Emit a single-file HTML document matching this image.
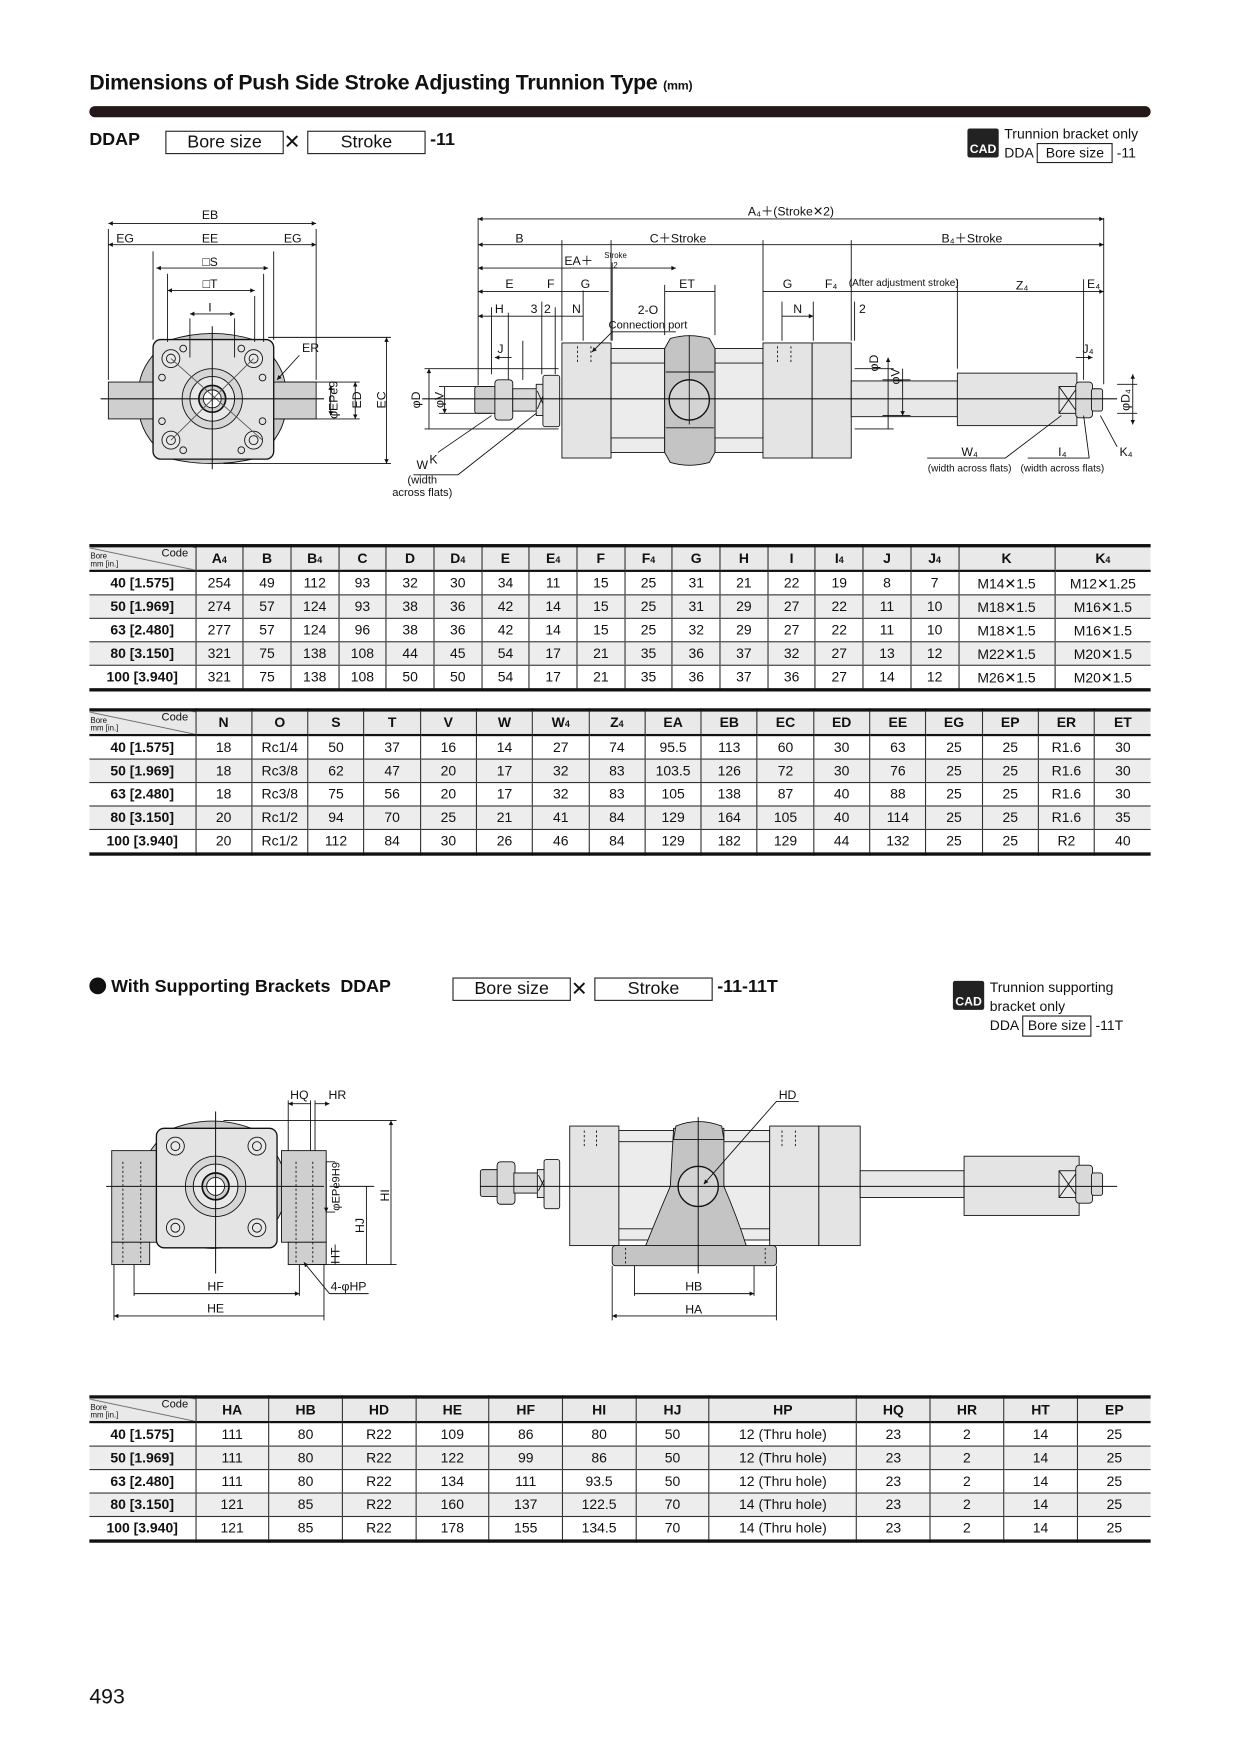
<!DOCTYPE html>
<html><head><meta charset="utf-8">
<style>
html,body{margin:0;padding:0;background:#fff}
#wrap{width:1240px;height:1754px;overflow:hidden;position:relative}
#pg{position:absolute;left:0;top:0;width:1110px;height:1570px;transform:scale(1.11712);transform-origin:0 0;font-family:"Liberation Sans",Arial,sans-serif;color:#111}
.abs{position:absolute}
h1{position:absolute;left:80px;top:64px;margin:0;font-size:19px;font-weight:bold;letter-spacing:-0.2px;white-space:nowrap}
h1 small{font-size:11px}
.bar{position:absolute;left:80px;top:95px;width:950px;height:10px;background:#231a18;border-radius:5px}
.box{display:inline-block;border:1px solid #222;padding:0 0;text-align:center;font-weight:normal}
table{position:absolute;border-collapse:collapse;table-layout:fixed;font-size:12.5px}
td,th{height:20px;padding:0;text-align:center;border-left:1px solid #333;border-bottom:1px solid #333;white-space:nowrap;overflow:hidden}
th{background:#e9e9e9;font-weight:bold;border-bottom:2px solid #111;font-size:12.5px}
td:first-child,th:first-child{border-left:none;font-weight:bold}
tr.g td{background:#ededed}
table{border-top:3px solid #111;border-bottom:3px solid #111}
th.c{position:relative;text-align:right;font-weight:normal;font-size:10px;vertical-align:top;padding-right:6px;background:#e9e9e9 linear-gradient(to top right,transparent 49%,#333 50%,transparent 52%) }
th.c span{position:absolute;left:1px;bottom:1px;font-size:7px;text-align:left;line-height:7px}
sub{font-size:8px;vertical-align:baseline}
svg text{font-family:"Liberation Sans",Arial,sans-serif;font-size:11px;fill:#111}
</style></head><body><div id="wrap"><div id="pg">
<h1>Dimensions of Push Side Stroke Adjusting Trunnion Type <small>(mm)</small></h1>
<div class="bar"></div>
<div class="abs" style="left:80px;top:117px;font-size:16px;font-weight:bold;white-space:nowrap">DDAP
 <span class="box" style="position:absolute;left:68px;top:0;width:104px;font-size:16px;line-height:19px">Bore size</span>
 <span style="position:absolute;left:174px;top:0;font-weight:normal;font-size:18px">✕</span>
 <span class="box" style="position:absolute;left:195px;top:0;width:104px;font-size:16px;line-height:19px">Stroke</span>
 <span style="position:absolute;left:305px;top:0">-11</span></div>
<div class="abs" style="left:866px;top:115px;width:28px;height:26px;background:#222;color:#fff;font-size:11px;font-weight:bold;text-align:center;line-height:38px;border-radius:2px">CAD</div>
<div class="abs" style="left:899px;top:112px;font-size:12.5px;line-height:16px;white-space:nowrap">Trunnion bracket only<br>DDA <span class="box" style="width:66px">Bore size</span> -11</div>

<svg class="abs" style="left:0;top:0" width="1110" height="470" viewBox="0 0 1110 470">
<defs><marker id="a" viewBox="0 0 10 10" refX="10" refY="5" markerWidth="7" markerHeight="5" orient="auto-start-reverse"><path d="M0,0L10,5L0,10z" fill="#111"/></marker></defs>
<g stroke="#111" stroke-width="0.8" fill="none">
<path d="M150 305 Q190 292 230 305 Q260 330 255 357 Q260 385 230 410 Q190 420 150 410 Q120 385 125 357 Q120 330 150 305z" fill="#c9c9c9"/>
<rect x="97" y="342" width="42" height="33" fill="#cfcfcf"/>
<rect x="243" y="342" width="40" height="33" fill="#cfcfcf"/>
<rect x="137" y="304" width="108" height="107" rx="7" fill="#e4e4e4" stroke-width="1.2"/>
<circle cx="190" cy="357" r="27" fill="#d6d6d6"/><circle cx="190" cy="357" r="20" fill="#e8e8e8"/><circle cx="190" cy="357" r="12" fill="#cfcfcf" stroke-width="1.5"/><circle cx="190" cy="357" r="8" fill="#fff"/>
<g fill="#e8e8e8"><circle cx="153" cy="321" r="8"/><circle cx="227" cy="321" r="8"/><circle cx="153" cy="394" r="8"/><circle cx="227" cy="394" r="8"/></g>
<g><circle cx="153" cy="321" r="4"/><circle cx="227" cy="321" r="4"/><circle cx="153" cy="394" r="4"/><circle cx="227" cy="394" r="4"/></g>
<g><circle cx="164" cy="312" r="3"/><circle cx="216" cy="312" r="3"/><circle cx="164" cy="403" r="3"/><circle cx="216" cy="403" r="3"/><circle cx="145" cy="338" r="3"/><circle cx="235" cy="338" r="3"/><circle cx="145" cy="377" r="3"/><circle cx="235" cy="377" r="3"/></g>
<path d="M153 321L235 394M227 321L153 394" stroke="#555"/>
<path d="M90 357H290M190 292V420" stroke-width="0.9"/>
<path d="M97 205V340M283 205V340M137 225V304M245 225V304M150 245V306M236 245V306M150 265V306M228 265V306M170 285V320M210 285V320"/>
<path d="M97 200H283" marker-start="url(#a)" marker-end="url(#a)"/>
<path d="M97 219H137M137 219H245M245 219H283" marker-start="url(#a)" marker-end="url(#a)"/>
<path d="M140 240H240" marker-start="url(#a)" marker-end="url(#a)"/>
<path d="M150 260H228" marker-start="url(#a)" marker-end="url(#a)"/>
<path d="M170 281H210" marker-start="url(#a)" marker-end="url(#a)"/>
<path d="M240 302H350M250 342H322M250 375H322M200 415H350"/>
<path d="M318 342V375" marker-start="url(#a)" marker-end="url(#a)"/>
<path d="M346 302V415" marker-start="url(#a)" marker-end="url(#a)"/>
<path d="M296 345V372" marker-start="url(#a)" marker-end="url(#a)"/>
<path d="M268 318L248 340" marker-end="url(#a)"/>
<rect x="425" y="346" width="22" height="24" rx="2" fill="#cfcfcf"/>
<rect x="443" y="340" width="16" height="36" rx="3" fill="#d9d9d9"/>
<rect x="459" y="348" width="22" height="20" fill="#d9d9d9"/>
<rect x="480" y="344" width="9" height="28" fill="#e4e4e4"/><path d="M481 350L488 366M488 350L481 366"/>
<rect x="486" y="336" width="15" height="46" rx="2" fill="#e4e4e4"/>
<rect x="503" y="307" width="44" height="103" fill="#e4e4e4"/>
<rect x="547" y="312" width="48" height="93" fill="#ececec"/><path d="M547 325H595M547 392H595"/>
<rect x="640" y="312" width="43" height="93" fill="#ececec"/><path d="M640 325H683M640 392H683"/>
<path d="M600 303Q617 298 635 303L640 312V405L635 414Q617 419 600 414L595 405V312z" fill="#c4c4c4"/>
<path d="M596 333H639M596 383H639"/>
<circle cx="617" cy="358" r="18" fill="#d4d4d4" stroke-width="1.2"/>
<rect x="683" y="307" width="44" height="103" fill="#e4e4e4"/>
<rect x="727" y="307" width="35" height="103" fill="#e4e4e4"/>
<rect x="762" y="341" width="95" height="32" fill="#e8e8e8"/>
<rect x="857" y="334" width="107" height="47" fill="#e4e4e4"/>
<rect x="948" y="346" width="17" height="24" fill="#e8e8e8"/><path d="M948 346L965 370M965 346L948 370"/>
<rect x="963" y="342" width="15" height="32" rx="3" fill="#d9d9d9"/>
<rect x="977" y="348" width="10" height="20" rx="2" fill="#d9d9d9"/>
<g stroke-dasharray="2 2"><path d="M517 310V326M529 310V326M696 310V326M708 310V326"/></g>
<path d="M378 357H1000" stroke-width="0.9"/>
<path d="M617 300V380"/>
<path d="M428 195V345M988 195V344M503 215V305M547 215V305M683 215V305M762 215V305M857 250V330M970 250V340M548 235V305M595 255V300M640 255V300M503 215V305M485 270V335M497 275V335M440 275V335M455 280V340M468 305V340M700 270V305M728 270V305M765 270V305M522 260V305"/>
<path d="M428 196H988" marker-start="url(#a)" marker-end="url(#a)"/>
<path d="M428 219H503M503 219H832M832 219H988" marker-start="url(#a)" marker-end="url(#a)"/>
<path d="M428 240H605" marker-start="url(#a)" marker-end="url(#a)"/>
<path d="M428 261H485M485 261H503M503 261H545M595 261H640M683 261H728M728 261H762M762 261H857M857 261H970M970 261H988" marker-start="url(#a)" marker-end="url(#a)"/>
<path d="M428 283H468M468 283H480M480 283H503M503 283H522M700 283H728" marker-start="url(#a)" marker-end="url(#a)"/>
<path d="M443 320H458M963 320H978" marker-start="url(#a)" marker-end="url(#a)"/>
<path d="M380 330H500M380 384H500M393 346H440M393 370H440"/>
<path d="M384 330V384M398 346V370" marker-start="url(#a)" marker-end="url(#a)"/>
<path d="M765 330H800M765 384H800M790 340H815M790 372H815"/>
<path d="M795 320V384M808 330V372" marker-start="url(#a)" marker-end="url(#a)"/>
<path d="M1000 344H1018M1000 370H1018"/>
<path d="M1014 335V380" marker-start="url(#a)" marker-end="url(#a)"/>
<path d="M548 297H605M548 297L530 315" marker-end="url(#a)"/>
<path d="M392 405L440 372M370 425H410L480 370M830 410H900L950 372M920 410H975L970 372M1000 400L985 372"/>
</g>
<g text-anchor="middle">
<text x="188" y="196">EB</text><text x="112" y="217">EG</text><text x="188" y="217">EE</text><text x="262" y="217">EG</text>
<text x="188" y="238">□S</text><text x="188" y="258">□T</text><text x="188" y="279">I</text><text x="278" y="315">ER</text>
<text x="708" y="193">A₄＋(Stroke✕2)</text><text x="465" y="217">B</text><text x="607" y="217">C＋Stroke</text><text x="870" y="217">B₄＋Stroke</text>
<text x="518" y="237">EA＋</text><text x="551" y="231" style="font-size:7px">Stroke</text><text x="551" y="240" style="font-size:7px">2</text>
<text x="456" y="258">E</text><text x="493" y="258">F</text><text x="524" y="258">G</text><text x="615" y="258">ET</text><text x="705" y="258">G</text><text x="744" y="258">F₄</text><text x="915" y="259">Z₄</text><text x="979" y="258">E₄</text>
<text x="809" y="256" style="font-size:9px">(After adjustment stroke)</text>
<text x="447" y="280">H</text><text x="478" y="280">3</text><text x="490" y="280">2</text><text x="516" y="280">N</text><text x="580" y="281">2-O</text><text x="714" y="280">N</text><text x="772" y="280">2</text>
<text x="580" y="294" style="font-size:10px">Connection port</text>
<text x="448" y="316">J</text><text x="974" y="316">J₄</text>
<text x="388" y="415">K</text><text x="378" y="420">W</text><text x="378" y="433" style="font-size:10px">(width</text><text x="378" y="444" style="font-size:10px">across flats)</text>
<text x="868" y="408">W₄</text><text x="868" y="422" style="font-size:9px">(width across flats)</text>
<text x="951" y="408">I₄</text><text x="951" y="422" style="font-size:9px">(width across flats)</text><text x="1008" y="408">K₄</text>
<text transform="translate(376,358) rotate(-90)">φD</text><text transform="translate(397,358) rotate(-90)">φV</text>
<text transform="translate(302,358) rotate(-90)">φEPe9</text><text transform="translate(323,358) rotate(-90)">ED</text><text transform="translate(345,358) rotate(-90)">EC</text>
<text transform="translate(786,325) rotate(-90)">φD</text><text transform="translate(805,337) rotate(-90)">φV</text><text transform="translate(1011,358) rotate(-90)">φD₄</text>
</g>
</svg>

<table style="left:80px;top:487px;width:950px">
<colgroup><col style="width:95px"><col span="16" style="width:42.7px"><col style="width:86px"><col style="width:86px"></colgroup>
<tr><th class="c">Code<span>Bore<br>mm [in.]</span></th><th>A<sub>4</sub></th><th>B</th><th>B<sub>4</sub></th><th>C</th><th>D</th><th>D<sub>4</sub></th><th>E</th><th>E<sub>4</sub></th><th>F</th><th>F<sub>4</sub></th><th>G</th><th>H</th><th>I</th><th>I<sub>4</sub></th><th>J</th><th>J<sub>4</sub></th><th>K</th><th>K<sub>4</sub></th></tr>
<tr><td>40 [1.575]</td><td>254</td><td>49</td><td>112</td><td>93</td><td>32</td><td>30</td><td>34</td><td>11</td><td>15</td><td>25</td><td>31</td><td>21</td><td>22</td><td>19</td><td>8</td><td>7</td><td>M14✕1.5</td><td>M12✕1.25</td></tr>
<tr class="g"><td>50 [1.969]</td><td>274</td><td>57</td><td>124</td><td>93</td><td>38</td><td>36</td><td>42</td><td>14</td><td>15</td><td>25</td><td>31</td><td>29</td><td>27</td><td>22</td><td>11</td><td>10</td><td>M18✕1.5</td><td>M16✕1.5</td></tr>
<tr><td>63 [2.480]</td><td>277</td><td>57</td><td>124</td><td>96</td><td>38</td><td>36</td><td>42</td><td>14</td><td>15</td><td>25</td><td>32</td><td>29</td><td>27</td><td>22</td><td>11</td><td>10</td><td>M18✕1.5</td><td>M16✕1.5</td></tr>
<tr class="g"><td>80 [3.150]</td><td>321</td><td>75</td><td>138</td><td>108</td><td>44</td><td>45</td><td>54</td><td>17</td><td>21</td><td>35</td><td>36</td><td>37</td><td>32</td><td>27</td><td>13</td><td>12</td><td>M22✕1.5</td><td>M20✕1.5</td></tr>
<tr><td>100 [3.940]</td><td>321</td><td>75</td><td>138</td><td>108</td><td>50</td><td>50</td><td>54</td><td>17</td><td>21</td><td>35</td><td>36</td><td>37</td><td>36</td><td>27</td><td>14</td><td>12</td><td>M26✕1.5</td><td>M20✕1.5</td></tr>
</table>

<table style="left:80px;top:634px;width:950px">
<colgroup><col style="width:95px"><col span="17" style="width:50.3px"></colgroup>
<tr><th class="c">Code<span>Bore<br>mm [in.]</span></th><th>N</th><th>O</th><th>S</th><th>T</th><th>V</th><th>W</th><th>W<sub>4</sub></th><th>Z<sub>4</sub></th><th>EA</th><th>EB</th><th>EC</th><th>ED</th><th>EE</th><th>EG</th><th>EP</th><th>ER</th><th>ET</th></tr>
<tr><td>40 [1.575]</td><td>18</td><td>Rc1/4</td><td>50</td><td>37</td><td>16</td><td>14</td><td>27</td><td>74</td><td>95.5</td><td>113</td><td>60</td><td>30</td><td>63</td><td>25</td><td>25</td><td>R1.6</td><td>30</td></tr>
<tr class="g"><td>50 [1.969]</td><td>18</td><td>Rc3/8</td><td>62</td><td>47</td><td>20</td><td>17</td><td>32</td><td>83</td><td>103.5</td><td>126</td><td>72</td><td>30</td><td>76</td><td>25</td><td>25</td><td>R1.6</td><td>30</td></tr>
<tr><td>63 [2.480]</td><td>18</td><td>Rc3/8</td><td>75</td><td>56</td><td>20</td><td>17</td><td>32</td><td>83</td><td>105</td><td>138</td><td>87</td><td>40</td><td>88</td><td>25</td><td>25</td><td>R1.6</td><td>30</td></tr>
<tr class="g"><td>80 [3.150]</td><td>20</td><td>Rc1/2</td><td>94</td><td>70</td><td>25</td><td>21</td><td>41</td><td>84</td><td>129</td><td>164</td><td>105</td><td>40</td><td>114</td><td>25</td><td>25</td><td>R1.6</td><td>35</td></tr>
<tr><td>100 [3.940]</td><td>20</td><td>Rc1/2</td><td>112</td><td>84</td><td>30</td><td>26</td><td>46</td><td>84</td><td>129</td><td>182</td><td>129</td><td>44</td><td>132</td><td>25</td><td>25</td><td>R2</td><td>40</td></tr>
</table>

<div class="abs" style="left:80px;top:875px;font-size:16px;font-weight:bold;white-space:nowrap"><span style="display:inline-block;width:15px;height:15px;border-radius:50%;background:#111;vertical-align:-2px"></span> With Supporting Brackets&nbsp; DDAP
 <span class="box" style="position:absolute;left:325px;top:0;width:104px;font-size:16px;line-height:19px">Bore size</span>
 <span style="position:absolute;left:431px;top:0;font-weight:normal;font-size:18px">✕</span>
 <span class="box" style="position:absolute;left:452px;top:0;width:104px;font-size:16px;line-height:19px">Stroke</span>
 <span style="position:absolute;left:562px;top:0">-11-11T</span></div>
<div class="abs" style="left:853px;top:878px;width:28px;height:26px;background:#222;color:#fff;font-size:11px;font-weight:bold;text-align:center;line-height:38px;border-radius:2px">CAD</div>
<div class="abs" style="left:886px;top:876px;font-size:12.5px;line-height:16.5px;white-space:nowrap">Trunnion supporting<br>bracket only<br>DDA <span class="box" style="width:60px">Bore size</span> -11T</div>

<svg class="abs" style="left:0;top:960px" width="1110" height="230" viewBox="0 960 1110 230">
<defs><marker id="b" viewBox="0 0 10 10" refX="10" refY="5" markerWidth="7" markerHeight="5" orient="auto-start-reverse"><path d="M0,0L10,5L0,10z" fill="#111"/></marker></defs>
<g stroke="#111" stroke-width="0.8" fill="none">
<path d="M150 1012 Q190 995 230 1012 Q258 1040 255 1062 Q258 1090 230 1110 Q190 1125 150 1110 Q122 1090 125 1062 Q122 1040 150 1012z" fill="#c9c9c9"/>
<rect x="100" y="1030" width="40" height="82" fill="#cfcfcf"/><rect x="100" y="1112" width="34" height="20" fill="#cfcfcf"/>
<rect x="252" y="1030" width="40" height="82" fill="#cfcfcf"/><rect x="258" y="1112" width="34" height="20" fill="#cfcfcf"/>
<rect x="140" y="1010" width="108" height="107" rx="7" fill="#e4e4e4" stroke-width="1.2"/>
<circle cx="193" cy="1062" r="27" fill="#d6d6d6"/><circle cx="193" cy="1062" r="20" fill="#e8e8e8"/><circle cx="193" cy="1062" r="12" fill="#cfcfcf" stroke-width="1.5"/><circle cx="193" cy="1062" r="8" fill="#fff"/>
<g fill="#e8e8e8"><circle cx="157" cy="1026" r="8"/><circle cx="230" cy="1026" r="8"/><circle cx="157" cy="1099" r="8"/><circle cx="230" cy="1099" r="8"/></g>
<g><circle cx="157" cy="1026" r="4"/><circle cx="230" cy="1026" r="4"/><circle cx="157" cy="1099" r="4"/><circle cx="230" cy="1099" r="4"/></g>
<path d="M95 1062H290M193 995V1140" stroke-width="0.9"/>
<g stroke-dasharray="2 2"><path d="M110 1040V1130M126 1040V1130M265 1040V1130M280 1040V1130"/></g>
<path d="M258 985V1030M278 985V1030M282 985V1030M102 1132V1182M290 1132V1182M120 1132V1160M268 1132V1160M200 1003H355M270 1132H355"/>
<path d="M258 988H278M282 988H295" marker-start="url(#b)" marker-end="url(#b)"/>
<path d="M102 1178H290M120 1158H268" marker-start="url(#b)" marker-end="url(#b)"/>
<path d="M350 1003V1132M328 1062V1132M300 1114V1132M292 1040V1085" marker-start="url(#b)" marker-end="url(#b)"/>
<path d="M295 1062H335M292 1040H300M292 1085H300"/>
<path d="M330 1158H295L272 1130" marker-end="url(#b)"/>
<rect x="430" y="1047" width="18" height="24" rx="2" fill="#cfcfcf"/>
<rect x="445" y="1040" width="16" height="38" rx="3" fill="#d9d9d9"/>
<rect x="460" y="1050" width="22" height="18" fill="#d9d9d9"/>
<rect x="481" y="1047" width="9" height="25" fill="#e4e4e4"/><path d="M482 1052L489 1066M489 1052L482 1066"/>
<rect x="487" y="1038" width="14" height="44" rx="2" fill="#e4e4e4"/>
<rect x="510" y="1008" width="44" height="107" fill="#e4e4e4"/>
<rect x="554" y="1012" width="135" height="98" fill="#ececec"/><path d="M554 1022H689M554 1100H689"/>
<rect x="689" y="1008" width="44" height="107" fill="#e4e4e4"/>
<rect x="733" y="1008" width="37" height="107" fill="#e4e4e4"/>
<rect x="770" y="1048" width="93" height="24" fill="#e8e8e8"/>
<rect x="863" y="1035" width="103" height="53" fill="#e4e4e4"/>
<rect x="948" y="1048" width="17" height="24" fill="#e8e8e8"/><path d="M948 1048L965 1072M965 1048L948 1072"/>
<rect x="963" y="1043" width="15" height="34" rx="3" fill="#d9d9d9"/>
<rect x="977" y="1050" width="10" height="20" rx="2" fill="#d9d9d9"/>
<rect x="548" y="1115" width="147" height="18" rx="3" fill="#c4c4c4"/>
<path d="M603 1010H648V1062Q660 1090 668 1115H578Q588 1090 600 1062z" fill="#c4c4c4"/>
<path d="M605 1008Q625 1000 646 1008L648 1020H603z" fill="#c4c4c4"/>
<circle cx="625" cy="1062" r="18" fill="#d4d4d4" stroke-width="1.2"/>
<g stroke-dasharray="2 2"><path d="M523 1012V1028M534 1012V1028M700 1012V1028M712 1012V1028M560 1117V1132M685 1117V1132"/></g>
<path d="M430 1062H1000M625 1000V1140" stroke-width="0.9"/>
<path d="M548 1133V1182M695 1133V1182M568 1133V1160M675 1133V1160"/>
<path d="M548 1178H695M568 1158H675" marker-start="url(#b)" marker-end="url(#b)"/>
<path d="M715 986H695L630 1060" marker-end="url(#b)"/>
</g>
<g text-anchor="middle">
<text x="268" y="984">HQ</text><text x="302" y="984">HR</text><text x="193" y="1155">HF</text><text x="193" y="1175">HE</text><text x="312" y="1155">4-φHP</text>
<text transform="translate(304,1062) rotate(-90)" style="font-size:10px">φEPe9H9</text><text transform="translate(348,1070) rotate(-90)">HI</text><text transform="translate(326,1097) rotate(-90)">HJ</text><text transform="translate(304,1124) rotate(-90)">HT</text>
<text x="705" y="984">HD</text><text x="621" y="1155">HB</text><text x="621" y="1176">HA</text>
</g>
</svg>

<table style="left:80px;top:1249px;width:950px">
<colgroup><col style="width:95px"><col span="7" style="width:65.7px"><col style="width:132px"><col span="4" style="width:65.85px"></colgroup>
<tr><th class="c">Code<span>Bore<br>mm [in.]</span></th><th>HA</th><th>HB</th><th>HD</th><th>HE</th><th>HF</th><th>HI</th><th>HJ</th><th>HP</th><th>HQ</th><th>HR</th><th>HT</th><th>EP</th></tr>
<tr><td>40 [1.575]</td><td>111</td><td>80</td><td>R22</td><td>109</td><td>86</td><td>80</td><td>50</td><td>12 (Thru hole)</td><td>23</td><td>2</td><td>14</td><td>25</td></tr>
<tr class="g"><td>50 [1.969]</td><td>111</td><td>80</td><td>R22</td><td>122</td><td>99</td><td>86</td><td>50</td><td>12 (Thru hole)</td><td>23</td><td>2</td><td>14</td><td>25</td></tr>
<tr><td>63 [2.480]</td><td>111</td><td>80</td><td>R22</td><td>134</td><td>111</td><td>93.5</td><td>50</td><td>12 (Thru hole)</td><td>23</td><td>2</td><td>14</td><td>25</td></tr>
<tr class="g"><td>80 [3.150]</td><td>121</td><td>85</td><td>R22</td><td>160</td><td>137</td><td>122.5</td><td>70</td><td>14 (Thru hole)</td><td>23</td><td>2</td><td>14</td><td>25</td></tr>
<tr><td>100 [3.940]</td><td>121</td><td>85</td><td>R22</td><td>178</td><td>155</td><td>134.5</td><td>70</td><td>14 (Thru hole)</td><td>23</td><td>2</td><td>14</td><td>25</td></tr>
</table>

<div class="abs" style="left:80px;top:1509px;font-size:19px">493</div>
</div></div></body></html>
